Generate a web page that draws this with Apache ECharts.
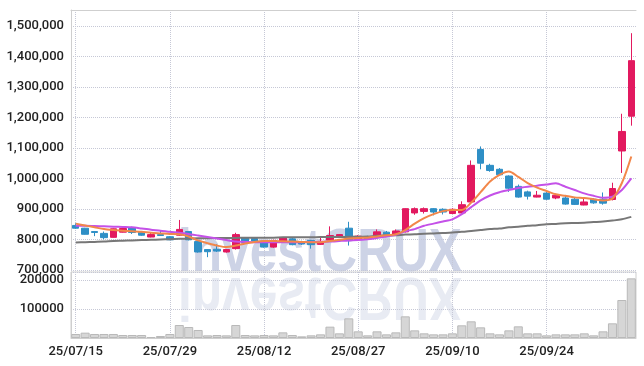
<!DOCTYPE html>
<html>
<head>
<meta charset="utf-8">
<script src="https://cdn.jsdelivr.net/npm/echarts@6/dist/echarts.min.js"></script>
<style>
html,body{margin:0;padding:0;background:#fff;}
#chart{width:644px;height:366px;}
</style>
</head>
<body>
<div id="chart"></div>
<script>
const dates = ['25/07/15','25/07/16','25/07/17','25/07/18','25/07/21','25/07/22','25/07/23','25/07/24','25/07/25','25/07/28',
'25/07/29','25/07/30','25/07/31','25/08/01','25/08/04','25/08/05','25/08/06','25/08/07','25/08/08','25/08/11',
'25/08/12','25/08/13','25/08/14','25/08/18','25/08/19','25/08/20','25/08/21','25/08/22','25/08/25','25/08/26',
'25/08/27','25/08/28','25/08/29','25/09/01','25/09/02','25/09/03','25/09/04','25/09/05','25/09/08','25/09/09',
'25/09/10','25/09/11','25/09/12','25/09/15','25/09/16','25/09/17','25/09/18','25/09/19','25/09/22','25/09/23',
'25/09/24','25/09/25','25/09/26','25/09/29','25/09/30','25/10/01','25/10/02','25/10/10','25/10/13','25/10/14'];

const opens = [846000,837000,826000,820000,807000,824000,839000,824000,808000,816000,
809000,814000,826000,793000,767000,768000,759000,770000,805000,803000,
795000,775000,792000,802000,793000,797000,784000,798000,811000,837000,
800000,809000,808000,824000,814000,825000,887000,892000,901000,899000,
885000,887000,923000,1095000,1043000,1030000,1008000,974000,956000,939000,
952000,936000,936000,932000,913000,932000,932000,931000,1090000,1204000];

const closes = [837000,817000,823000,806000,835000,836000,823000,814000,816000,813000,
799000,833000,799000,759000,760000,762000,767000,816000,790000,795000,
775000,797000,806000,783000,785000,783000,794000,813000,816000,797000,
811000,801000,825000,815000,828000,901000,901000,901000,890000,890000,
899000,914000,1043000,1050000,1026000,1012000,968000,939000,942000,945000,
932000,945000,916000,915000,923000,920000,919000,967000,1154000,1386000];

const lows = [835000,816000,811000,801000,806000,823000,818000,812000,807000,812000,
798000,812000,797000,757000,742000,759000,757000,767000,788000,792000,
773000,773000,790000,781000,782000,770000,782000,796000,809000,780000,
798000,799000,806000,812000,812000,823000,881000,885000,879000,882000,
884000,885000,918000,1030000,1022000,1010000,956000,937000,931000,938000,
930000,932000,914000,913000,912000,917000,914000,928000,1018000,1173000];

const highs = [853000,838000,827000,826000,836000,838000,842000,826000,824000,831000,
811000,864000,828000,795000,768000,784000,769000,822000,806000,805000,
797000,799000,808000,805000,796000,799000,806000,843000,818000,858000,
814000,812000,833000,828000,833000,902000,905000,905000,903000,902000,
902000,925000,1059000,1105000,1048000,1034000,1010000,980000,960000,959000,
955000,950000,945000,938000,934000,935000,954000,986000,1212000,1476000];

const volumes = [13800,18400,13800,13800,13800,10300,10300,10300,3400,6900,
13800,44800,37900,27600,9200,10300,9200,44800,10300,9200,
10300,9200,19500,10300,5700,9200,12600,39100,16100,67800,
23000,9200,23000,12600,19500,74700,26400,16100,12600,12600,
16100,43700,57500,36800,16100,12600,26400,40200,16100,16100,
9200,12600,12600,12600,16100,9200,23000,50600,131000,205700];

const maShort = [852000,846000,840000,834000,831000,829000,827000,825000,822000,820000,
818000,817000,810000,797000,788000,780000,775000,780000,787000,792000,
795000,795000,794000,793000,792000,791000,791000,795000,799000,803000,
805000,806000,810000,814000,817000,831000,852000,870000,883000,893000,
897000,897000,921000,955000,990000,1012000,1023000,1005000,985000,970000,
959000,948000,943000,938000,936000,932000,928000,934000,985000,1072000];

const maMid = [845000,845000,844000,843000,842000,841000,840000,836000,832000,829000,
825000,822000,818000,813000,808000,803000,798000,793000,792000,791000,
791000,791000,791000,791000,791000,792000,792000,793000,795000,797000,
798000,801000,805000,810000,815000,827000,834000,845000,852000,859000,
866000,883000,906000,928000,944000,955000,962000,969000,973000,976000,
980000,984000,973000,962000,951000,943000,937000,940000,962000,1000000];

const maLong = [790000,791000,792000,793000,795000,796000,797000,798000,799000,800000,
801000,802000,803000,804000,804000,805000,805000,805000,806000,806000,
806000,806000,807000,807000,807000,807000,808000,808000,808000,809000,
809000,810000,812000,813000,814000,816000,817000,819000,820000,821000,
823000,825000,828000,831000,834000,836000,840000,842000,845000,847000,
850000,851000,853000,854000,855000,857000,859000,862000,866000,874000];

const priceMin = 700000, priceMax = 1552000, priceStep = 100000;
const volMin = 0, volMax = 227600, volStep = 100000;
const watermark = 'investCRUX';

const FONT = 'Roboto, "Liberation Sans", sans-serif';
const WM_FONT = 'bold 62px "Liberation Sans", Arial, sans-serif';
const gridLine = {show:true, lineStyle:{type:'dotted', color:'#c6c8d6', width:1}};
const labelStyle = {color:'#222', fontFamily:FONT, fontSize:13, fontWeight:500, margin:7};

const candleData = dates.map((d,i)=>[opens[i], closes[i], lows[i], highs[i]]);

const chart = echarts.init(document.getElementById('chart'), null, {renderer:'canvas'});
chart.setOption({
  animation:false,
  backgroundColor:'#ffffff',
  grid:[
    {left:71, right:8, top:10, height:260, outerBoundsMode:'none', containLabel:false},
    {left:71, right:8, top:272, height:66, outerBoundsMode:'none', containLabel:false,
     show:true, borderColor:'#cfcfcf', borderWidth:1}
  ],
  xAxis:[
    {type:'category', gridIndex:0, data:dates, boundaryGap:true, position:'top',
     axisLine:{show:true, lineStyle:{color:'#cfcfcf'}}, axisTick:{show:false}, axisLabel:{show:false},
     splitLine:Object.assign({interval:9, alignWithLabel:true}, gridLine)},
    {type:'category', gridIndex:1, data:dates, boundaryGap:true,
     axisLine:{show:true, lineStyle:{color:'#cfcfcf'}}, axisTick:{show:false},
     axisLabel:Object.assign({interval:9}, labelStyle),
     splitLine:Object.assign({interval:9, alignWithLabel:true}, gridLine)}
  ],
  yAxis:[
    {type:'value', gridIndex:0, min:priceMin, max:priceMax, interval:priceStep, scale:true,
     axisLine:{show:true, lineStyle:{color:'#cfcfcf'}}, axisTick:{show:false},
     axisLabel:Object.assign({showMaxLabel:false, formatter:v=>v.toLocaleString('en-US')}, labelStyle),
     splitLine:gridLine},
    {type:'value', gridIndex:1, min:volMin, max:volMax, interval:volStep,
     axisLine:{show:true, lineStyle:{color:'#cfcfcf'}}, axisTick:{show:false},
     axisLabel:Object.assign({showMaxLabel:false, showMinLabel:false, formatter:v=>String(v)}, labelStyle),
     splitLine:gridLine}
  ],
  graphic:[
    {type:'text', x:178, y:223, scaleX:0.8, z:0, silent:true,
     style:{text:watermark, font:WM_FONT, fill:'#cdd3e6', verticalAlign:'top'}},
    {type:'text', x:178, y:326, scaleX:0.8, scaleY:-1, z:0, silent:true,
     style:{text:watermark, font:WM_FONT, fill:'#e8ebf3', verticalAlign:'top'}}
  ],
  series:[
    {type:'candlestick', xAxisIndex:0, yAxisIndex:0, data:candleData, barWidth:7,
     itemStyle:{color:'#e2195f', color0:'#2e8fc6', borderColor:'#e2195f', borderColor0:'#2e8fc6', borderWidth:1}},
    {type:'line', xAxisIndex:0, yAxisIndex:0, data:maLong, showSymbol:false, smooth:0.3,
     lineStyle:{color:'#777777', width:2}},
    {type:'line', xAxisIndex:0, yAxisIndex:0, data:maMid, showSymbol:false, smooth:0.2,
     lineStyle:{color:'#c451e8', width:2}},
    {type:'line', xAxisIndex:0, yAxisIndex:0, data:maShort, showSymbol:false, smooth:0.3,
     lineStyle:{color:'#f2874a', width:2}},
    {type:'bar', xAxisIndex:1, yAxisIndex:1, data:volumes, barCategoryGap:'4%',
     itemStyle:{color:'#d6d6d6', borderColor:'#b9b9b9', borderWidth:1}}
  ]
});
</script>
</body>
</html>
